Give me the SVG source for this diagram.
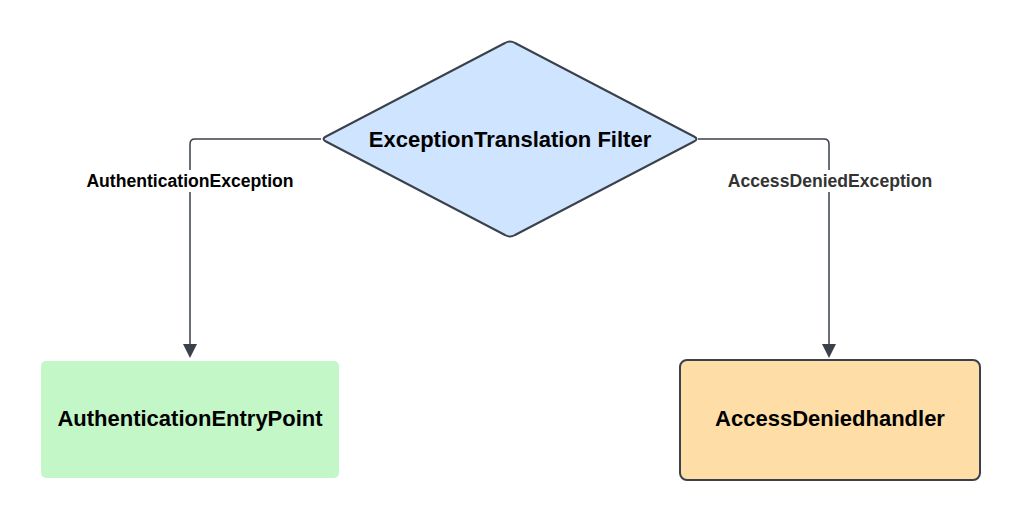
<svg xmlns="http://www.w3.org/2000/svg" width="1020" height="520" viewBox="0 0 1020 520">
<style>
.t{font-family:"Liberation Sans",Arial,sans-serif;font-weight:bold;text-anchor:middle;fill:#000}
.n{font-size:22px}
.l{font-size:17.6px}
.c{fill:none;stroke:#3a414a;stroke-width:1.5;stroke-linejoin:round}
.a{fill:#3a414a}
</style>
<rect width="1020" height="520" fill="#fff"/>
<g id="connectors">
<path class="c" d="M321,139 H195 Q190,139 190,144 V346"/>
<path class="c" d="M698,139 H824 Q829,139 829,144 V346"/>
<path class="a" d="M183,344 L197,344 L190,358 Z"/>
<path class="a" d="M822,344 L836,344 L829,358 Z"/>
<rect x="84" y="170" width="212" height="22" fill="#fff"/>
<rect x="724" y="170" width="212" height="22" fill="#fff"/>
<text class="t l" x="190" y="187">AuthenticationException</text>
<text class="t l" x="830" y="187" style="fill:#333">AccessDeniedException</text>
</g>
<g id="filter">
<path d="M505,43 Q510,40 515,43 L694,136.5 Q699,139 694,141.5 L515,235 Q510,238 505,235 L326,141.5 Q321,139 326,136.5 Z" fill="#cfe4ff" stroke="#3a414a" stroke-width="2" stroke-linejoin="round"/>
<text class="t n" x="510" y="147">ExceptionTranslation Filter</text>
</g>
<g id="entrypoint">
<rect x="41" y="361" width="298" height="117" rx="5" fill="#c3f7c8"/>
<text class="t n" x="190" y="426">AuthenticationEntryPoint</text>
</g>
<g id="handler">
<rect x="680" y="360" width="300" height="120" rx="7" fill="#ffdda6" stroke="#3a414a" stroke-width="2"/>
<text class="t n" x="830" y="426">AccessDeniedhandler</text>
</g>
</svg>
